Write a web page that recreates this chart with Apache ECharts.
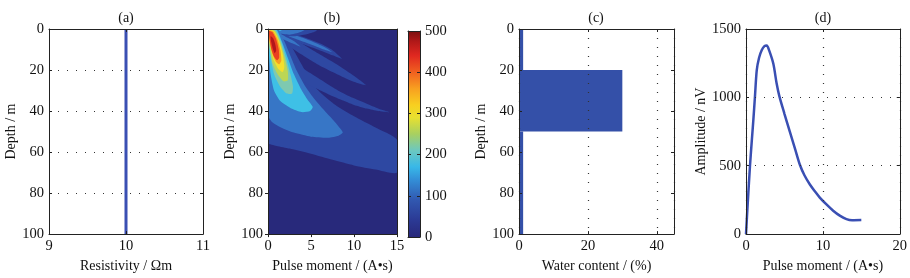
<!DOCTYPE html>
<html>
<head>
<meta charset="utf-8">
<script src="https://cdn.jsdelivr.net/npm/echarts@6/dist/echarts.min.js"></script>
<style>
html, body { margin: 0; padding: 0; background: #fff; }
#chart { width: 910px; height: 278px; }
</style>
</head>
<body>
<div id="chart"></div>
<script>
// (a) resistivity model
var resistivity = [10, 10];
var resistivityDepth = [0, 100];

// (b) kernel, filled contour bands: [pulse moment, depth]
var contourLevel = [0, 1, 1, 1, 1, 2, 1, 2, 2, 3, 2, 3, 4, 5, 6, 7, 8, 9];
var contourPaths = [
  [[0, 0], [15, 0], [15, 100], [0, 100]],
  // big lobe
  [[0, 0], [1.5, 0], [2.3, 5], [3.2, 12], [4.2, 19.5], [5.2, 27], [6.5, 32.5], [8, 37.5], [10, 42.5], [12.5, 48], [15, 54],
   [15, 70], [12.5, 68.5], [10, 66.5], [7.5, 63.8], [5, 60.8], [2.5, 58.3], [1, 57], [0, 55.5]],
  // streaks
  [[2.5, 14], [4, 19], [5.5, 23], [7, 27], [8.5, 30.8], [10, 33.8], [11.5, 36.5], [12.8, 38.8], [14.1, 40.6],
   [12.8, 40], [11.5, 38.8], [10, 37], [8.5, 34.5], [7, 31.8], [5.5, 28.8], [4, 25.5], [2.8, 22]],
  [[1.8, 2], [3, 4.8], [4.5, 8.5], [6, 12.3], [7.5, 16], [9, 20], [10.3, 23.8], [11.4, 27.4],
   [10.5, 26.5], [9, 24], [7.5, 21], [6, 17.8], [4.5, 14], [3, 10], [2, 6.5]],
  [[1.5, 0.5], [3, 2.3], [4.5, 4.5], [6, 7], [7.5, 10.3], [8.6, 14.5], [7.5, 12.8], [6, 10.3], [4.5, 8], [3, 5.8], [2, 4]],
  [[2, 1.5], [3.5, 3.5], [5, 5.8], [6.5, 8.6], [7.5, 11.3], [6.5, 10], [5, 7.5], [3.5, 5.2], [2.4, 3.5]],
  // top patches
  [[0.8, 0], [5.8, 0], [5.5, 1.2], [4.5, 2.5], [3, 3.5], [1.8, 3]],
  [[0.5, 0], [4.4, 0], [3.8, 1.5], [2.5, 2.8], [1.2, 2]],
  [[0.9, 1.5], [2, 3.6], [3, 5.8], [3.8, 8.6], [2.8, 7], [1.8, 5], [1, 3]],
  [[0.2, 0], [1.8, 0], [1.4, 1], [0.8, 1.6], [0.4, 1.2]],
  // main lobe, outer to inner
  [[0, 0.2], [1.2, 0.3], [1.9, 6], [2.6, 13], [3.3, 20], [4.2, 27], [5.2, 33], [6.4, 39], [7.6, 44.5], [8.4, 48.5], [8.7, 50.5],
   [8.2, 52], [7, 53], [5, 52.5], [3, 50.5], [1.5, 48], [0.5, 45.5], [0, 42]],
  [[0, 0.3], [1, 0.4], [1.6, 6], [2.3, 14], [3, 22], [3.8, 29], [4.6, 34.5], [5.2, 38], [4.9, 40], [3.9, 40.5],
   [2.6, 38.5], [1.4, 35], [0.7, 30], [0.3, 22], [0.1, 12]],
  [[0.1, 0.4], [0.9, 0.6], [1.5, 6], [2.1, 14], [2.6, 22], [2.9, 28], [2.8, 31.5], [2.2, 31.5], [1.4, 28], [0.7, 22], [0.25, 12]],
  [[0.1, 0.5], [0.8, 0.8], [1.4, 6], [1.9, 13.5], [2.3, 20.5], [2.3, 25], [1.8, 25.5], [1.1, 22], [0.55, 17], [0.2, 9]],
  [[0.1, 0.6], [0.7, 1], [1.25, 5.5], [1.7, 12], [1.9, 18.5], [1.7, 21], [1.2, 19.5], [0.65, 15], [0.25, 8]],
  [[0.1, 0.8], [0.6, 1.2], [1.1, 5], [1.45, 10.5], [1.55, 15.5], [1.3, 17.2], [0.9, 15.8], [0.5, 12], [0.2, 6.5]],
  [[0.1, 1], [0.5, 1.5], [0.95, 5], [1.25, 10], [1.3, 14], [1.05, 15.2], [0.7, 13.5], [0.4, 10], [0.2, 5.5]],
  [[0.3, 3.5], [0.6, 4.5], [0.85, 7.5], [0.95, 10.5], [0.78, 11.8], [0.55, 9.5], [0.38, 6.5]]
];
var colorbarMax = [500];

// (c) water content layers
var layerTop = [0, 20, 50];
var layerBottom = [20, 50, 100];
var waterContent = [1.2, 30, 1.2];

// (d) sounding curve
var pulseMoment = [0, 0.25, 0.52, 0.75, 0.95, 1.17, 1.4, 1.7, 2.04, 2.4, 2.7, 3.0, 3.55, 3.98, 4.33, 5.0, 5.71, 6.4, 7.01, 7.6,
  8.31, 9.0, 9.6, 10.5, 11.34, 12.2, 13.07, 13.8, 15.0];
var amplitude = [0, 250, 500, 680, 830, 1010, 1200, 1290, 1345, 1375, 1380, 1345, 1247, 1103, 1011, 880, 747, 620, 507, 430,
  363, 310, 267, 215, 171, 135, 110, 102, 103];

var font = 'Liberation Serif';
var ink = '#111';
var blue = '#3a4fb3';
var bandColors = ['#28297b', '#2e48a2', '#3776c6', '#3ec0e6', '#7ec9b0', '#bcd655', '#f4df2c', '#f59e24', '#ea4020', '#b3161a'];
var dotted = { show: true, lineStyle: { type: [1, 8], color: '#333', width: 1.2 } };

function axis(o) {
  return {
    type: o.type || 'value',
    gridIndex: o.grid,
    position: o.pos,
    min: o.min,
    max: o.max,
    interval: o.step,
    inverse: !!o.inverse,
    data: o.data,
    z: 5,
    name: o.name,
    nameLocation: 'middle',
    nameGap: o.nameGap,
    nameTextStyle: { color: ink, fontFamily: font, fontSize: 14 },
    axisLine: { show: true, onZero: false, lineStyle: { color: '#222', width: 1 } },
    axisTick: { show: o.ticks !== false, inside: !o.outside, length: 3, lineStyle: { color: '#222' } },
    axisLabel: {
      show: !!o.labels, color: ink, fontFamily: font, fontSize: 14.5, margin: o.margin || 5,
      showMaxLabel: o.hideMax ? false : null,
      formatter: function (v) { return String(v); }
    },
    splitLine: o.split ? dotted : { show: false }
  };
}

var chart = echarts.init(document.getElementById('chart'));

var titles = [['(a)', 126], ['(b)', 332], ['(c)', 596], ['(d)', 823]].map(function (t) {
  return { text: t[0], left: t[1], top: 11, textAlign: 'center', padding: 0,
    textStyle: { fontFamily: font, fontSize: 14, fontWeight: 'normal', color: ink } };
});

var option = {
  animation: false,
  backgroundColor: '#fff',
  title: titles,
  grid: [
    { left: 49, top: 29, width: 154, height: 208 },
    { left: 268, top: 29, width: 129, height: 208 },
    { left: 408, top: 31, width: 12, height: 206 },
    { left: 519, top: 29, width: 155, height: 208 },
    { left: 746, top: 29, width: 154, height: 208 }
  ],
  xAxis: [
    axis({ grid: 0, pos: 'bottom', min: 9, max: 11, step: 1, labels: true, name: 'Resistivity / Ωm', nameGap: 21, margin: 5 }),
    axis({ grid: 0, pos: 'top', min: 9, max: 11, step: 1 }),
    axis({ grid: 1, pos: 'bottom', min: 0, max: 15, step: 5, labels: true, outside: true, name: 'Pulse moment / (A•s)', nameGap: 21, margin: 5 }),
    axis({ grid: 1, pos: 'top', min: 0, max: 15, step: 5, ticks: false }),
    axis({ grid: 2, pos: 'bottom', type: 'category', data: [''], ticks: false }),
    axis({ grid: 2, pos: 'top', type: 'category', data: [''], ticks: false }),
    axis({ grid: 3, pos: 'bottom', min: 0, max: 45, step: 20, labels: true, hideMax: true, split: true, name: 'Water content / (%)', nameGap: 21, margin: 5 }),
    axis({ grid: 3, pos: 'top', min: 0, max: 45, step: 20 }),
    axis({ grid: 4, pos: 'bottom', min: 0, max: 20, step: 10, labels: true, split: true, name: 'Pulse moment / (A•s)', nameGap: 21, margin: 5 }),
    axis({ grid: 4, pos: 'top', min: 0, max: 20, step: 10 })
  ],
  yAxis: [
    axis({ grid: 0, pos: 'left', min: 0, max: 100, step: 20, inverse: true, labels: true, split: true, name: 'Depth / m', nameGap: 20 }),
    axis({ grid: 0, pos: 'right', min: 0, max: 100, step: 20, inverse: true }),
    axis({ grid: 1, pos: 'left', min: 0, max: 100, step: 20, inverse: true, labels: true, outside: true, name: 'Depth / m', nameGap: 30 }),
    axis({ grid: 1, pos: 'right', min: 0, max: 100, step: 20, inverse: true, ticks: false }),
    axis({ grid: 2, pos: 'right', min: 0, max: 500, step: 100, labels: true }),
    axis({ grid: 2, pos: 'left', min: 0, max: 500, step: 100 }),
    axis({ grid: 3, pos: 'left', min: 0, max: 100, step: 20, inverse: true, labels: true, name: 'Depth / m', nameGap: 31 }),
    axis({ grid: 3, pos: 'right', min: 0, max: 100, step: 20, inverse: true }),
    axis({ grid: 4, pos: 'left', min: 0, max: 1500, step: 500, labels: true, split: true, name: 'Amplitude / nV', nameGap: 37 }),
    axis({ grid: 4, pos: 'right', min: 0, max: 1500, step: 500 })
  ],
  series: [
    {
      type: 'line', xAxisIndex: 0, yAxisIndex: 0, symbol: 'none', silent: true,
      lineStyle: { color: blue, width: 3 },
      data: resistivity.map(function (r, i) { return [r, resistivityDepth[i]]; })
    },
    {
      type: 'custom', xAxisIndex: 2, yAxisIndex: 2, clip: true, silent: true, z: 1,
      renderItem: function (params, api) {
        var idx = api.value(2);
        var pts = contourPaths[idx].map(function (p) { return api.coord(p); });
        return {
          type: 'polygon',
          shape: { points: pts, smooth: idx === 0 ? 0 : 0.2 },
          style: { fill: bandColors[contourLevel[idx]] }
        };
      },
      data: contourPaths.map(function (p, i) { return [p[0][0], p[0][1], i]; })
    },
    {
      type: 'bar', xAxisIndex: 4, yAxisIndex: 4, silent: true, z: 1,
      barWidth: '100%',
      itemStyle: {
        color: new echarts.graphic.LinearGradient(0, 1, 0, 0, [
          { offset: 0, color: '#28287a' }, { offset: 0.08, color: '#2b3994' }, { offset: 0.18, color: '#3158b0' },
          { offset: 0.28, color: '#3390d8' }, { offset: 0.34, color: '#38b8e8' }, { offset: 0.42, color: '#6cc8c0' },
          { offset: 0.5, color: '#a8d060' }, { offset: 0.58, color: '#e8e030' }, { offset: 0.64, color: '#f8d020' },
          { offset: 0.72, color: '#f8a020' }, { offset: 0.8, color: '#f06020' }, { offset: 0.88, color: '#e02820' },
          { offset: 0.95, color: '#b01818' }, { offset: 1, color: '#7a1010' }
        ])
      },
      data: colorbarMax
    },
    {
      type: 'custom', xAxisIndex: 6, yAxisIndex: 6, clip: true, silent: true,
      renderItem: function (params, api) {
        var p0 = api.coord([0, api.value(1)]);
        var p1 = api.coord([api.value(0), api.value(2)]);
        return {
          type: 'rect',
          shape: { x: p0[0], y: p0[1], width: p1[0] - p0[0], height: p1[1] - p0[1] },
          style: { fill: '#3450a8' }
        };
      },
      data: waterContent.map(function (w, i) { return [w, layerTop[i], layerBottom[i]]; })
    },
    {
      type: 'line', xAxisIndex: 8, yAxisIndex: 8, symbol: 'none', silent: true, smooth: 0.3,
      lineStyle: { color: blue, width: 2.5 },
      data: pulseMoment.map(function (q, i) { return [q, amplitude[i]]; })
    }
  ]
};

chart.setOption(option);
</script>
</body>
</html>
